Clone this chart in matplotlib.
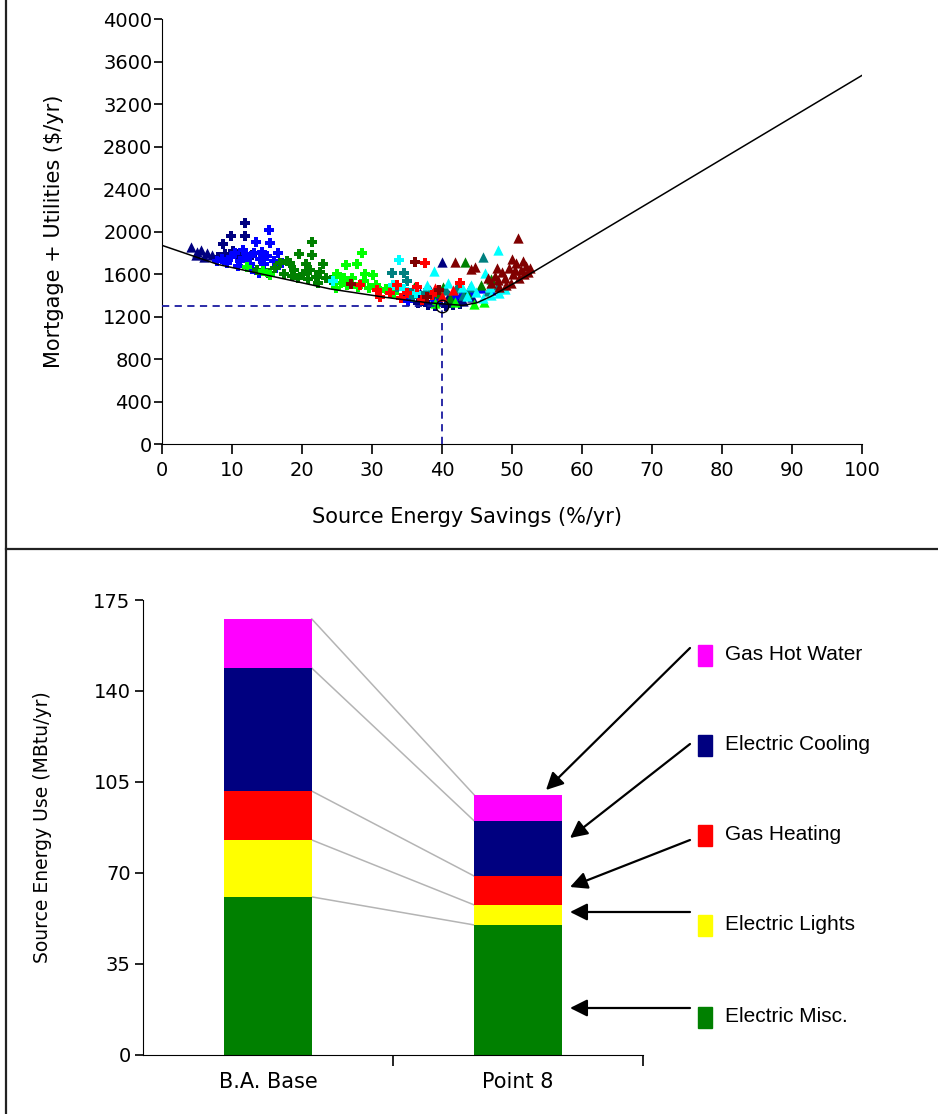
import matplotlib
matplotlib.use('Agg')
import matplotlib.pyplot as plt
from matplotlib.lines import Line2D
import numpy as np

plt.rcParams['font.family'] = ['DejaVu Sans']
plt.rcParams['font.size'] = 14

# --- top chart: cost vs. savings ---------------------------------------
# curve of least cost
curve_x = [0, 8, 16, 24, 32, 38, 43, 45, 47, 51, 100]
curve_y = [1870, 1690, 1575, 1460, 1380, 1330, 1305, 1330, 1390, 1540, 3470]

# optimum point
opt_x, opt_y = 40, 1300

# simulation points, grouped by colour and marker
navy_plus = [(8.7, 1880), (9.9, 1960), (11.9, 1960), (11.9, 2080), (9.0, 1790), (10.2, 1820),
             (8.0, 1760), (11.0, 1760), (12.8, 1780), (36.5, 1330), (38.0, 1310), (39.0, 1300),
             (40.5, 1295), (41.5, 1310), (37.2, 1350), (42.5, 1320), (35.5, 1380)]
navy_tri = [(4.2, 1850), (5.0, 1810), (5.6, 1830), (6.4, 1800), (7.2, 1780), (4.8, 1780),
            (6.0, 1760), (40.0, 1715), (36.8, 1420), (38.3, 1450), (39.5, 1360), (41.0, 1400),
            (43.0, 1350), (44.3, 1380), (34.5, 1400)]
blue_plus = [(7.8, 1720), (8.6, 1740), (9.3, 1700), (9.8, 1760), (10.5, 1800), (11.2, 1720),
             (11.6, 1830), (12.2, 1760), (12.6, 1690), (13.2, 1800), (13.5, 1900), (14.0, 1740),
             (14.6, 1690), (15.0, 1770), (15.3, 2010), (15.4, 1890), (16.0, 1720), (16.6, 1800),
             (17.1, 1700), (12.9, 1650), (10.8, 1680), (14.3, 1810), (16.3, 1660), (13.8, 1610),
             (35.2, 1350), (39.2, 1340), (42.0, 1380), (44.0, 1410)]
blue_tri = [(45.5, 1470), (47.0, 1450), (38.8, 1390), (42.8, 1440)]
green_plus = [(13.6, 1640), (15.2, 1610), (16.2, 1660), (17.4, 1600), (18.3, 1700), (18.8, 1640),
              (19.6, 1785), (20.2, 1600), (20.6, 1690), (21.2, 1640), (21.5, 1900), (21.5, 1780),
              (22.0, 1570), (22.6, 1620), (23.0, 1690), (23.4, 1560), (18.6, 1580), (17.8, 1720),
              (19.5, 1560), (24.2, 1540), (20.8, 1550), (22.3, 1520), (16.8, 1700)]
green_tri = [(36.0, 1480), (38.2, 1440), (40.2, 1480), (41.2, 1370), (42.3, 1500), (43.3, 1715),
             (43.5, 1420), (45.5, 1500), (47.0, 1550), (39.5, 1420)]
lime_plus = [(12.2, 1670), (14.5, 1630), (15.4, 1590), (25.0, 1600), (26.3, 1685), (27.9, 1690),
             (28.6, 1795), (30.2, 1590), (25.6, 1520), (26.4, 1500), (27.2, 1560), (28.0, 1480),
             (28.8, 1530), (29.5, 1470), (30.5, 1500), (31.2, 1440), (24.8, 1470), (26.0, 1560),
             (29.0, 1600), (32.0, 1460), (33.2, 1420)]
lime_tri = [(39.0, 1330), (41.8, 1340), (44.5, 1320), (46.0, 1340)]
teal_plus = [(32.8, 1606), (34.5, 1606), (35.0, 1534), (33.5, 1480), (36.0, 1450), (37.5, 1420),
             (35.8, 1380)]
teal_tri = [(45.9, 1757), (40.5, 1450), (42.0, 1470), (44.0, 1480), (46.5, 1440), (48.0, 1500),
            (43.0, 1400)]
cyan_plus = [(24.5, 1530), (33.9, 1730), (33.0, 1500), (34.6, 1460), (36.3, 1420)]
cyan_tri = [(38.9, 1626), (46.1, 1610), (48.0, 1826), (43.5, 1390), (44.8, 1430), (45.8, 1370),
            (47.0, 1400), (48.2, 1420), (46.8, 1480), (44.2, 1500), (42.8, 1480), (40.8, 1520),
            (49.0, 1460), (37.8, 1500)]
red_plus = [(28.3, 1496), (30.7, 1450), (31.1, 1387), (33.5, 1496), (35.0, 1420), (36.4, 1482),
            (37.1, 1355), (37.6, 1700), (42.6, 1513), (38.5, 1400), (34.2, 1370), (32.5, 1420)]
red_tri = [(40.0, 1390), (41.5, 1450), (39.0, 1470)]
maroon_plus = [(27.0, 1506), (36.1, 1716), (37.8, 1380), (39.6, 1450)]
maroon_tri = [(41.8, 1716), (44.2, 1652), (44.7, 1666), (50.9, 1936), (47.0, 1520), (47.5, 1580),
              (48.0, 1540), (48.5, 1620), (49.0, 1560), (49.5, 1660), (49.8, 1520), (50.2, 1600),
              (50.6, 1700), (51.0, 1560), (51.3, 1640), (51.7, 1600), (52.0, 1680), (52.3, 1620),
              (48.2, 1480), (49.2, 1500), (50.0, 1740), (51.5, 1720), (50.4, 1640), (46.6, 1560),
              (52.6, 1660), (47.8, 1660)]

# --- bottom chart: source energy by end use ------------------------------
cases = ['B.A. Base', 'Point 8']
end_uses = ['Electric Misc.', 'Electric Lights', 'Gas Heating', 'Electric Cooling', 'Gas Hot Water']
use_colors = ['#008000', '#ffff00', '#ff0000', '#000080', '#ff00ff']
base_use = [60.8, 21.9, 18.8, 47.3, 18.9]
point8_use = [50.0, 7.7, 11.1, 21.2, 10.0]

fig = plt.figure(figsize=(9.38, 11.14), dpi=100)

ax1 = fig.add_axes([0.1727, 0.6014, 0.7463, 0.3815])
series = [
    (navy_plus, '#000080', 'P'), (navy_tri, '#000080', '^'),
    (blue_plus, '#0000ff', 'P'), (blue_tri, '#0000ff', '^'),
    (green_plus, '#008000', 'P'), (green_tri, '#008000', '^'),
    (lime_plus, '#00ff00', 'P'), (lime_tri, '#00ff00', '^'),
    (teal_plus, '#008080', 'P'), (teal_tri, '#008080', '^'),
    (cyan_plus, '#00ffff', 'P'), (cyan_tri, '#00ffff', '^'),
    (red_plus, '#ff0000', 'P'), (red_tri, '#ff0000', '^'),
    (maroon_plus, '#800000', 'P'), (maroon_tri, '#800000', '^'),
]
for pts, col, mk in series:
    xs, ys = zip(*pts)
    ax1.scatter(xs, ys, s=55, c=col, marker=mk, linewidths=0, zorder=2)

ax1.plot(curve_x, curve_y, color='black', lw=1.1, zorder=3)
ax1.plot([0, opt_x], [opt_y, opt_y], color='#1a1aa0', lw=1.3, ls=(0, (4, 3)), zorder=4)
ax1.plot([opt_x, opt_x], [0, opt_y], color='#1a1aa0', lw=1.3, ls=(0, (4, 3)), zorder=4)
ax1.plot(opt_x, opt_y, marker='o', ms=9, mfc='none', mec='black', mew=1.0, zorder=5)

ax1.set_xlim(0, 100)
ax1.set_ylim(0, 4000)
ax1.set_xticks(np.arange(0, 101, 10))
ax1.set_yticks(np.arange(0, 4001, 400))
ax1.spines[['top', 'right']].set_visible(False)
ax1.tick_params(axis='x', direction='out', length=7, width=1.2, pad=5, labelsize=14)
ax1.tick_params(axis='y', direction='out', length=6, width=1.2, pad=1, labelsize=14)
ax1.set_xlabel('Source Energy Savings (%/yr)', fontsize=15)
ax1.xaxis.set_label_coords(0.436, -0.148)
ax1.set_ylabel('Mortgage + Utilities ($/yr)', labelpad=28, fontsize=15)

# stacked bars
ax2 = fig.add_axes([0.1525, 0.053, 0.533, 0.4084])
xpos = np.arange(len(cases))
bar_w = 0.35
bottom_b = 0.0
bottom_p = 0.0
for i, name in enumerate(end_uses):
    ax2.bar(xpos[0], base_use[i], bar_w, bottom=bottom_b, color=use_colors[i], zorder=2)
    ax2.bar(xpos[1], point8_use[i], bar_w, bottom=bottom_p, color=use_colors[i], zorder=2)
    bottom_b += base_use[i]
    bottom_p += point8_use[i]
    # connector between segment tops
    ax2.plot([xpos[0] + bar_w / 2, xpos[1] - bar_w / 2], [bottom_b, bottom_p],
             color='#b4b4b4', lw=1.1, zorder=1)

ax2.set_xlim(-0.5, 1.5)
ax2.set_ylim(0, 175)
ax2.set_yticks(np.arange(0, 176, 35))
ax2.set_xticks(xpos)
ax2.set_xticklabels(cases)
ax2.set_xticks([0.5, 1.5], minor=True)
ax2.tick_params(axis='x', which='major', length=0, pad=12, labelsize=15)
ax2.tick_params(axis='x', which='minor', direction='out', length=8, width=1.2)
ax2.tick_params(axis='y', direction='out', length=6, width=1.2, pad=3, labelsize=14)
ax2.spines[['top', 'right']].set_visible(False)
ax2.set_ylabel('Source Energy Use (MBtu/yr)', labelpad=30, fontsize=13.5)

# legend entries with arrows pointing at the Point 8 bar
W, H = 938, 1114
legend_y = [1017, 925, 835, 745, 655]
arrow_tail_y = [1008, 912, 840, 744, 648]
arrow_head = [(570, 1008), (570, 912), (570, 887), (570, 838), (546, 790)]
for i, name in enumerate(end_uses):
    yy = 1 - legend_y[i] / H
    fig.patches.append(plt.Rectangle((698 / W, yy - 11 / H), 14 / W, 21 / H,
                                     transform=fig.transFigure, color=use_colors[i]))
    fig.text(725 / W, yy, name, va='center', ha='left', fontsize=15,
             family=['Liberation Sans', 'DejaVu Sans'])
    hx, hy = arrow_head[i]
    fig.add_artist(matplotlib.patches.FancyArrowPatch(
        (690 / W, 1 - arrow_tail_y[i] / H), (hx / W, 1 - hy / H),
        transform=fig.transFigure, arrowstyle='-|>', mutation_scale=26,
        color='black', lw=1.6, shrinkA=0, shrinkB=0))

# panel frame lines
fig.add_artist(Line2D([6 / W, 6 / W], [0, 1], color='#222222', lw=1.6))
fig.add_artist(Line2D([6 / W, 1], [1 - 549 / H, 1 - 549 / H], color='#222222', lw=1.6))

fig.savefig('out.png', dpi=100, facecolor='white')
